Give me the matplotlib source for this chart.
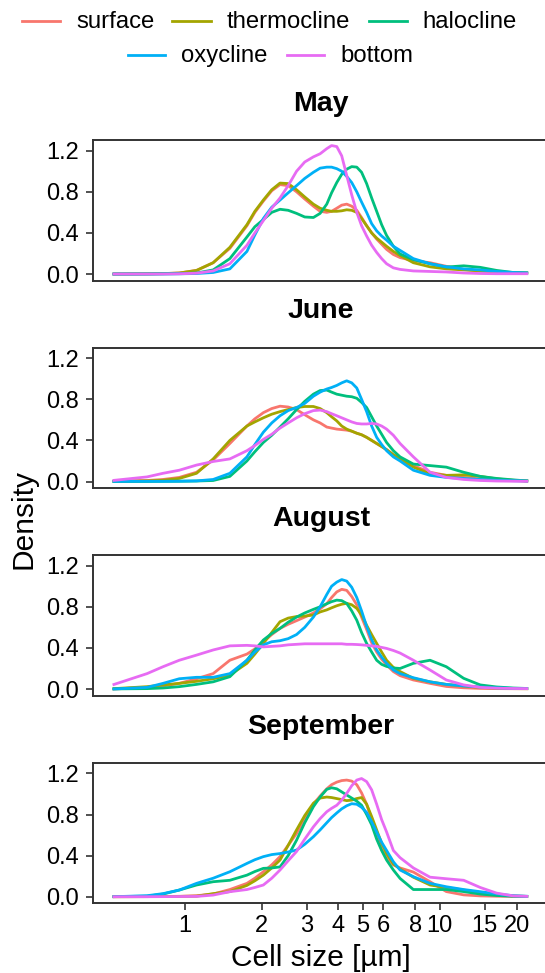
import matplotlib
matplotlib.use("Agg")
import matplotlib.pyplot as plt
from matplotlib.lines import Line2D

plt.rcParams['font.family'] = ['Liberation Sans', 'DejaVu Sans']

# ---------------- data ----------------
cell_size_um = [0.52, 0.71, 0.82, 0.95, 1.11, 1.29, 1.50, 1.75, 1.88, 2.03,
                2.19, 2.36, 2.54, 2.74, 2.95, 3.19, 3.39, 3.60, 3.76, 3.94,
                4.12, 4.31, 4.51, 4.72, 4.93, 5.16, 5.40, 5.65, 5.91, 6.18,
                6.57, 6.98, 7.87, 9.15, 10.6, 12.4, 14.4, 16.7, 19.4, 22.2]

depth_layers = ["surface", "thermocline", "halocline", "oxycline", "bottom"]
months = ["May", "June", "August", "September"]

may_surface = [0.0, 0.002, 0.004, 0.01, 0.035, 0.11, 0.25, 0.47, 0.60, 0.71,
               0.81, 0.87, 0.86, 0.80, 0.73, 0.66, 0.61, 0.60, 0.61, 0.64,
               0.67, 0.68, 0.66, 0.62, 0.55, 0.47, 0.40, 0.34, 0.29, 0.24,
               0.19, 0.16, 0.13, 0.11, 0.075, 0.045, 0.03, 0.02, 0.012, 0.01]
may_thermocline = [0.0, 0.002, 0.004, 0.01, 0.035, 0.11, 0.26, 0.48, 0.61, 0.72,
                   0.82, 0.885, 0.88, 0.82, 0.75, 0.68, 0.64, 0.62, 0.61, 0.61,
                   0.615, 0.625, 0.62, 0.60, 0.54, 0.47, 0.40, 0.35, 0.31, 0.27,
                   0.22, 0.18, 0.11, 0.07, 0.05, 0.04, 0.03, 0.02, 0.012, 0.01]
may_halocline = [0.0, 0.001, 0.002, 0.004, 0.01, 0.04, 0.15, 0.36, 0.46, 0.53,
                 0.60, 0.63, 0.62, 0.59, 0.555, 0.55, 0.59, 0.68, 0.79, 0.89,
                 0.97, 1.02, 1.045, 1.04, 0.99, 0.88, 0.74, 0.61, 0.48, 0.375,
                 0.27, 0.195, 0.14, 0.10, 0.068, 0.08, 0.065, 0.035, 0.015, 0.01]
may_oxycline = [0.0, 0.0, 0.001, 0.002, 0.005, 0.015, 0.05, 0.22, 0.38, 0.54,
                0.65, 0.72, 0.79, 0.86, 0.93, 0.99, 1.03, 1.04, 1.04, 1.025,
                1.0, 0.95, 0.89, 0.80, 0.70, 0.60, 0.49, 0.42, 0.37, 0.33,
                0.27, 0.23, 0.15, 0.10, 0.07, 0.05, 0.04, 0.025, 0.015, 0.01]
may_bottom = [0.0, 0.0, 0.0, 0.002, 0.008, 0.03, 0.10, 0.28, 0.40, 0.52,
              0.64, 0.74, 0.86, 1.00, 1.09, 1.14, 1.17, 1.22, 1.25, 1.24,
              1.15, 0.96, 0.77, 0.60, 0.47, 0.37, 0.28, 0.21, 0.15, 0.10,
              0.06, 0.045, 0.03, 0.025, 0.02, 0.01, 0.005, 0.003, 0.003, 0.003]

jun_surface = [0.003, 0.01, 0.02, 0.04, 0.09, 0.21, 0.37, 0.54, 0.61, 0.67,
               0.71, 0.733, 0.725, 0.70, 0.65, 0.60, 0.57, 0.53, 0.52, 0.51,
               0.505, 0.50, 0.49, 0.47, 0.455, 0.43, 0.40, 0.37, 0.34, 0.31,
               0.26, 0.23, 0.155, 0.09, 0.06, 0.04, 0.025, 0.016, 0.01, 0.005]
jun_thermocline = [0.002, 0.006, 0.012, 0.03, 0.08, 0.22, 0.40, 0.54, 0.58, 0.62,
                   0.655, 0.68, 0.70, 0.72, 0.73, 0.73, 0.71, 0.67, 0.63, 0.59,
                   0.54, 0.51, 0.49, 0.47, 0.455, 0.43, 0.40, 0.37, 0.34, 0.31,
                   0.26, 0.22, 0.14, 0.075, 0.06, 0.065, 0.05, 0.026, 0.012, 0.005]
jun_halocline = [0.001, 0.001, 0.002, 0.003, 0.005, 0.01, 0.05, 0.20, 0.29, 0.38,
                 0.45, 0.53, 0.61, 0.70, 0.78, 0.85, 0.885, 0.89, 0.87, 0.85,
                 0.84, 0.83, 0.825, 0.81, 0.77, 0.72, 0.63, 0.54, 0.46, 0.38,
                 0.30, 0.24, 0.17, 0.155, 0.14, 0.09, 0.05, 0.03, 0.016, 0.005]
jun_oxycline = [0.001, 0.002, 0.002, 0.003, 0.006, 0.02, 0.08, 0.24, 0.36, 0.48,
                0.57, 0.64, 0.69, 0.72, 0.76, 0.83, 0.87, 0.90, 0.915, 0.935,
                0.96, 0.98, 0.96, 0.91, 0.80, 0.68, 0.54, 0.43, 0.36, 0.30,
                0.24, 0.20, 0.11, 0.06, 0.04, 0.03, 0.02, 0.012, 0.008, 0.005]
jun_bottom = [0.01, 0.045, 0.08, 0.11, 0.16, 0.195, 0.22, 0.30, 0.35, 0.41,
              0.46, 0.52, 0.57, 0.62, 0.66, 0.69, 0.695, 0.68, 0.66, 0.64,
              0.62, 0.60, 0.58, 0.565, 0.56, 0.56, 0.565, 0.56, 0.54, 0.51,
              0.45, 0.37, 0.24, 0.09, 0.04, 0.02, 0.01, 0.005, 0.003, 0.002]

aug_surface = [0.0, 0.016, 0.03, 0.055, 0.10, 0.15, 0.28, 0.34, 0.39, 0.46,
               0.53, 0.59, 0.63, 0.665, 0.70, 0.74, 0.78, 0.83, 0.89, 0.945,
               0.97, 0.96, 0.90, 0.82, 0.70, 0.58, 0.45, 0.36, 0.29, 0.235,
               0.17, 0.13, 0.088, 0.055, 0.025, 0.012, 0.006, 0.004, 0.003, 0.003]
aug_thermocline = [0.003, 0.023, 0.04, 0.055, 0.075, 0.10, 0.136, 0.25, 0.34, 0.444,
                   0.55, 0.655, 0.69, 0.705, 0.71, 0.72, 0.75, 0.77, 0.79, 0.81,
                   0.825, 0.834, 0.82, 0.785, 0.72, 0.62, 0.53, 0.444, 0.36, 0.28,
                   0.21, 0.17, 0.104, 0.07, 0.045, 0.03, 0.016, 0.008, 0.004, 0.003]
aug_halocline = [0.001, 0.004, 0.01, 0.023, 0.045, 0.07, 0.12, 0.28, 0.38, 0.477,
                 0.54, 0.59, 0.65, 0.70, 0.74, 0.775, 0.80, 0.83, 0.85, 0.865,
                 0.86, 0.833, 0.76, 0.67, 0.55, 0.444, 0.36, 0.28, 0.24, 0.22,
                 0.205, 0.20, 0.25, 0.28, 0.217, 0.104, 0.04, 0.02, 0.01, 0.005]
aug_oxycline = [0.0, 0.016, 0.055, 0.10, 0.114, 0.114, 0.15, 0.28, 0.36, 0.43,
                0.46, 0.47, 0.49, 0.53, 0.60, 0.70, 0.80, 0.92, 1.00, 1.04,
                1.065, 1.05, 0.99, 0.89, 0.76, 0.61, 0.48, 0.38, 0.31, 0.25,
                0.185, 0.15, 0.11, 0.07, 0.045, 0.03, 0.02, 0.012, 0.006, 0.004]
aug_bottom = [0.04, 0.15, 0.217, 0.28, 0.33, 0.38, 0.42, 0.425, 0.42, 0.41,
              0.415, 0.42, 0.43, 0.435, 0.44, 0.44, 0.44, 0.44, 0.44, 0.44,
              0.44, 0.435, 0.435, 0.433, 0.43, 0.425, 0.42, 0.415, 0.405, 0.395,
              0.375, 0.35, 0.28, 0.185, 0.088, 0.04, 0.016, 0.008, 0.005, 0.004]

sep_surface = [0.0, 0.001, 0.002, 0.004, 0.01, 0.026, 0.07, 0.13, 0.18, 0.243,
               0.31, 0.39, 0.50, 0.616, 0.76, 0.90, 0.98, 1.05, 1.09, 1.115,
               1.13, 1.135, 1.125, 1.09, 1.01, 0.90, 0.75, 0.60, 0.46, 0.38,
               0.31, 0.28, 0.24, 0.146, 0.05, 0.018, 0.008, 0.005, 0.003, 0.002]
sep_thermocline = [0.0, 0.001, 0.002, 0.003, 0.005, 0.03, 0.05, 0.11, 0.155, 0.21,
                   0.28, 0.357, 0.50, 0.65, 0.79, 0.91, 0.96, 0.97, 0.965, 0.955,
                   0.945, 0.935, 0.94, 0.955, 0.965, 0.90, 0.78, 0.65, 0.52, 0.42,
                   0.32, 0.27, 0.19, 0.114, 0.09, 0.065, 0.04, 0.02, 0.007, 0.003]
sep_halocline = [0.001, 0.005, 0.026, 0.065, 0.114, 0.146, 0.16, 0.21, 0.245, 0.276,
                 0.28, 0.29, 0.40, 0.55, 0.72, 0.876, 0.97, 1.045, 1.06, 1.05,
                 1.02, 0.99, 0.96, 0.93, 0.89, 0.80, 0.70, 0.56, 0.45, 0.357,
                 0.26, 0.178, 0.07, 0.07, 0.07, 0.05, 0.026, 0.012, 0.005, 0.003]
sep_oxycline = [0.0, 0.01, 0.03, 0.065, 0.13, 0.18, 0.243, 0.324, 0.36, 0.39,
                0.41, 0.42, 0.435, 0.454, 0.51, 0.584, 0.65, 0.72, 0.77, 0.815,
                0.855, 0.885, 0.905, 0.90, 0.87, 0.82, 0.73, 0.63, 0.53, 0.45,
                0.34, 0.26, 0.195, 0.13, 0.097, 0.07, 0.049, 0.028, 0.01, 0.004]
sep_bottom = [0.0, 0.0, 0.001, 0.002, 0.003, 0.016, 0.049, 0.07, 0.09, 0.114,
              0.18, 0.26, 0.35, 0.44, 0.56, 0.68, 0.76, 0.827, 0.86, 0.89,
              0.94, 1.005, 1.08, 1.135, 1.15, 1.12, 1.04, 0.90, 0.75, 0.63,
              0.45, 0.38, 0.28, 0.19, 0.175, 0.16, 0.09, 0.035, 0.008, 0.003]

month_series = {
    "May": [may_surface, may_thermocline, may_halocline, may_oxycline, may_bottom],
    "June": [jun_surface, jun_thermocline, jun_halocline, jun_oxycline, jun_bottom],
    "August": [aug_surface, aug_thermocline, aug_halocline, aug_oxycline, aug_bottom],
    "September": [sep_surface, sep_thermocline, sep_halocline, sep_oxycline, sep_bottom],
}

x_ticks = [1, 2, 3, 4, 5, 6, 8, 10, 15, 20]
y_ticks = [0.0, 0.4, 0.8, 1.2]

# ---------------- style ----------------
colors = ["#F8766D", "#A3A500", "#00BF7D", "#00B0F6", "#E76BF3"]
AX_COL = "#333333"
W, H = 545, 973

def fx(px):
    return px / W

def fy(py):
    return 1 - py / H

fig = plt.figure(figsize=(W / 100, H / 100), dpi=100)

panel_tops = [140, 347.5, 555, 762.7]
panel_h = 140.5
left_px, right_px = 92.7, 549

for i, (month, top) in enumerate(zip(months, panel_tops)):
    ax = fig.add_axes([fx(left_px), fy(top + panel_h),
                       (right_px - left_px) / W, panel_h / H])
    for vals, col in zip(month_series[month], colors):
        ax.plot(cell_size_um, vals, color=col, lw=2.0,
                solid_joinstyle='round', solid_capstyle='butt')
    ax.set_xscale('log')
    ax.set_xlim(0.4345, 26.8)
    ax.set_ylim(-0.063, 1.304)
    ax.set_yticks(y_ticks)
    ax.set_yticklabels([f"{v:.1f}" for v in y_ticks])
    ax.minorticks_off()
    for s in ax.spines.values():
        s.set_color(AX_COL)
        s.set_linewidth(1.4)
    ax.tick_params(axis='y', length=4.7, width=1.2, color=AX_COL,
                   labelsize=17, pad=5, labelcolor='black')
    if i == len(months) - 1:
        ax.set_xticks(x_ticks)
        ax.set_xticklabels([str(v) for v in x_ticks])
        ax.tick_params(axis='x', which='both', length=4.7, width=1.2,
                       color=AX_COL, labelsize=17, pad=4, labelcolor='black')
    else:
        ax.set_xticks([])
        ax.tick_params(axis='x', which='both', length=0)
    fig.text(fx(321), fy(top - 29), month, ha='center', va='baseline',
             fontsize=20.5, fontweight='bold')

# axis titles
fig.text(fx(321), fy(966), "Cell size [µm]", ha='center', va='baseline', fontsize=21.5)
fig.text(fx(9), fy(519), "Density", ha='left', va='center', rotation=90, fontsize=21.5)

# legend (two centred rows like the reference)
legend_items = [
    (0, 21.7, 60, 76),
    (1, 171.7, 210.7, 226.7),
    (2, 369, 407.3, 422.7),
    (3, 127.7, 165, 181),
    (4, 286.7, 324, 340),
]
for idx, x0, x1, xt in legend_items:
    row_line_y = 20.7 if idx < 3 else 55
    row_text_y = 28.5 if idx < 3 else 62
    fig.add_artist(Line2D([fx(x0), fx(x1)], [fy(row_line_y), fy(row_line_y)],
                          color=colors[idx], lw=2.0, transform=fig.transFigure))
    fig.text(fx(xt), fy(row_text_y), depth_layers[idx], ha='left', va='baseline',
             fontsize=17.2)

fig.savefig("out.png", dpi=100)
